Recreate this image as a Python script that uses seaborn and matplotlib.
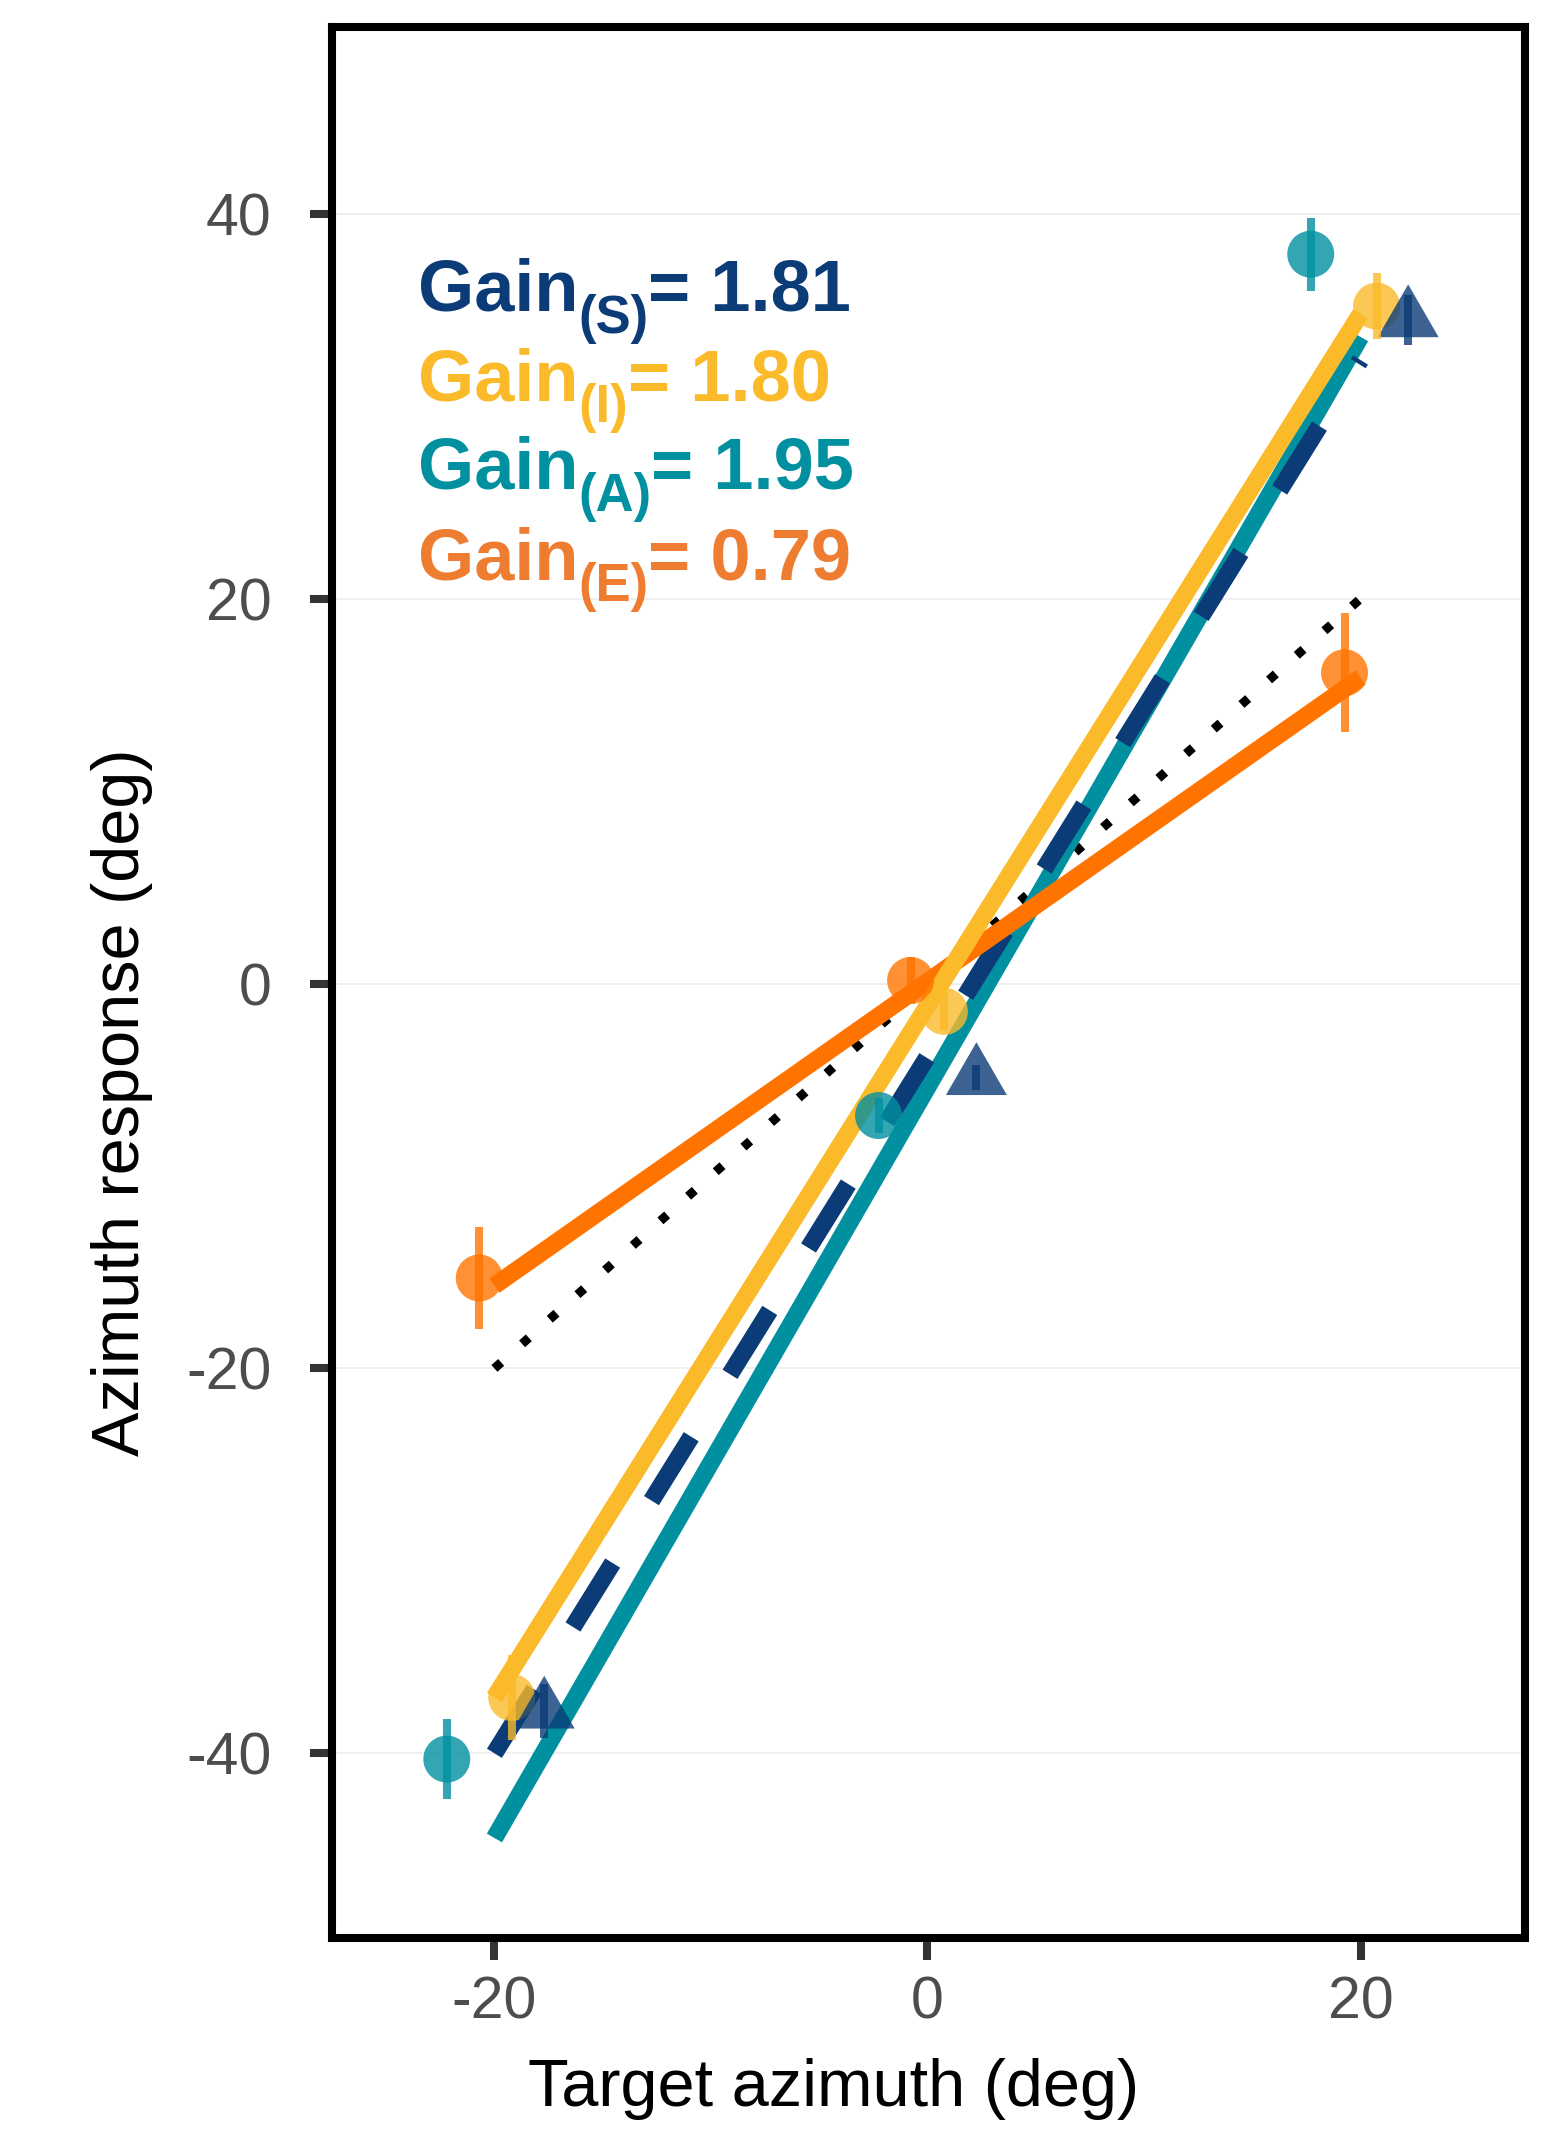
import matplotlib
matplotlib.use('Agg')
import matplotlib.pyplot as plt
import matplotlib.transforms as mtransforms
import seaborn as sns
import pandas as pd

# measured points (x is already dodged as in the figure), mean +- error
A_x = [-22.2, -2.26, 17.7]
A_y = [-40.3, -6.86, 37.9]
A_err = [2.1, 0.9, 1.9]

E_x = [-20.7, -0.78, 19.26]
E_y = [-15.3, 0.16, 16.15]
E_err = [2.65, 1.2, 3.1]

I_x = [-19.2, 0.78, 20.74]
I_y = [-37.1, -1.45, 35.2]
I_err = [2.2, 1.0, 1.7]

S_x = [-17.7, 2.26, 22.2]
S_y = [-37.8, -4.88, 34.5]
S_err = [1.4, 0.65, 1.3]

# fitted lines, response at target -20 and +20
fit_x = [-20, 20]
A_fit = [-44.4, 33.6]
S_fit = [-40.0, 32.4]
E_fit = [-15.7, 15.9]
I_fit = [-37.1, 34.8]
unity = [-20, 20]

labels = ['S', 'I', 'A', 'E']
gains = ['1.81', '1.80', '1.95', '0.79']

navy = '#0b3c77'
yellow = '#fbba2a'
teal = '#0190a0'
orange = '#ff7400'
orange_txt = '#ee7d31'

sns.set_theme(style='white')
plt.rcParams['font.family'] = ['Liberation Sans', 'DejaVu Sans']
plt.rcParams['axes.unicode_minus'] = False

fig = plt.figure(figsize=(15.61, 21.33), dpi=100)
ax = fig.add_axes([0.2127, 0.0914, 0.7643, 0.8959])

lw = 12.6
sns.lineplot(x=fit_x, y=unity, color='black', linewidth=6.5,
             linestyle=(0, (1, 3.1)), dash_capstyle='butt', ax=ax, zorder=2)
sns.lineplot(x=fit_x, y=A_fit, color=teal, linewidth=lw,
             solid_capstyle='butt', ax=ax, zorder=2)
sns.lineplot(x=fit_x, y=S_fit, color=navy, linewidth=lw,
             linestyle=(0, (4.3, 4.2)), dash_capstyle='butt', ax=ax, zorder=2)
sns.lineplot(x=fit_x, y=E_fit, color=orange, linewidth=lw,
             solid_capstyle='butt', ax=ax, zorder=2)
sns.lineplot(x=fit_x, y=I_fit, color=yellow, linewidth=lw,
             solid_capstyle='butt', ax=ax, zorder=2)

tri = [(-0.5, -0.2887), (0.5, -0.2887), (0, 0.5774)]
groups = [
    (A_x, A_y, A_err, teal, 'o', 1143),
    (E_x, E_y, E_err, orange, 'o', 1143),
    (I_x, I_y, I_err, yellow, 'o', 1143),
    (S_x, S_y, S_err, navy, tri, 2570),
]
for gx, gy, ge, col, mk, sz in groups:
    df = pd.DataFrame({'x': gx, 'y': gy})
    sns.scatterplot(data=df, x='x', y='y', color=col, marker=mk, s=sz,
                    alpha=0.8, edgecolor='none', linewidth=0, ax=ax, zorder=3)
    ax.errorbar(gx, gy, yerr=ge, fmt='none', ecolor=col, elinewidth=5.8,
                alpha=0.8, capsize=0, zorder=4)

ax.set_xlim(-27.5, 27.6)
ax.set_ylim(-49.6, 49.7)
ax.set_xticks([-20, 0, 20])
ax.set_yticks([-40, -20, 0, 20, 40])
ax.grid(axis='y', color='#ebebeb', linewidth=1.1, zorder=0)
ax.grid(axis='x', visible=False)
ax.set_axisbelow(True)

for sp in ax.spines.values():
    sp.set_visible(True)
    sp.set_color('black')
    sp.set_linewidth(5.8)

ax.tick_params(axis='both', which='major', length=15.8, width=5.8,
               color='#333333', labelcolor='#4d4d4d', labelsize=42.5,
               direction='out', left=True, bottom=True)
ax.tick_params(axis='y', pad=28)
ax.tick_params(axis='x', pad=11)

ax.set_xlabel('Target azimuth (deg)', fontsize=48, color='black')
ax.set_ylabel('Azimuth response (deg)', fontsize=48, color='black')
ax.xaxis.set_label_coords(0.42, -0.0628)
ax.yaxis.set_label_coords(-0.150, 0.4375)

# gain annotations: "Gain" + subscript "(X)" + "= value", built piece by piece
renderer = fig.canvas.get_renderer()
txt_cols = [navy, yellow, teal, orange_txt]
txt_y = [34.96, 30.3, 25.7, 21.0]
main_fs = 52
sub_fs = 38
for lab, g, c, ty in zip(labels, gains, txt_cols, txt_y):
    t1 = ax.text(-23.55, ty, 'Gain', color=c, fontsize=main_fs,
                 fontweight='bold', va='baseline', ha='left', zorder=5)
    w1 = t1.get_window_extent(renderer).width
    tr2 = mtransforms.offset_copy(ax.transData, fig=fig, x=w1 * 72 / fig.dpi,
                                  y=-22 * 72 / fig.dpi, units='points')
    t2 = ax.text(-23.55, ty, '(' + lab + ')', color=c, fontsize=sub_fs,
                 fontweight='bold', va='baseline', ha='left', transform=tr2,
                 zorder=5)
    w2 = t2.get_window_extent(renderer).width
    tr3 = mtransforms.offset_copy(ax.transData, fig=fig,
                                  x=(w1 + w2) * 72 / fig.dpi, y=0,
                                  units='points')
    ax.text(-23.55, ty, '= ' + g, color=c, fontsize=main_fs,
            fontweight='bold', va='baseline', ha='left', transform=tr3,
            zorder=5)

fig.savefig('out.png', dpi=100)
